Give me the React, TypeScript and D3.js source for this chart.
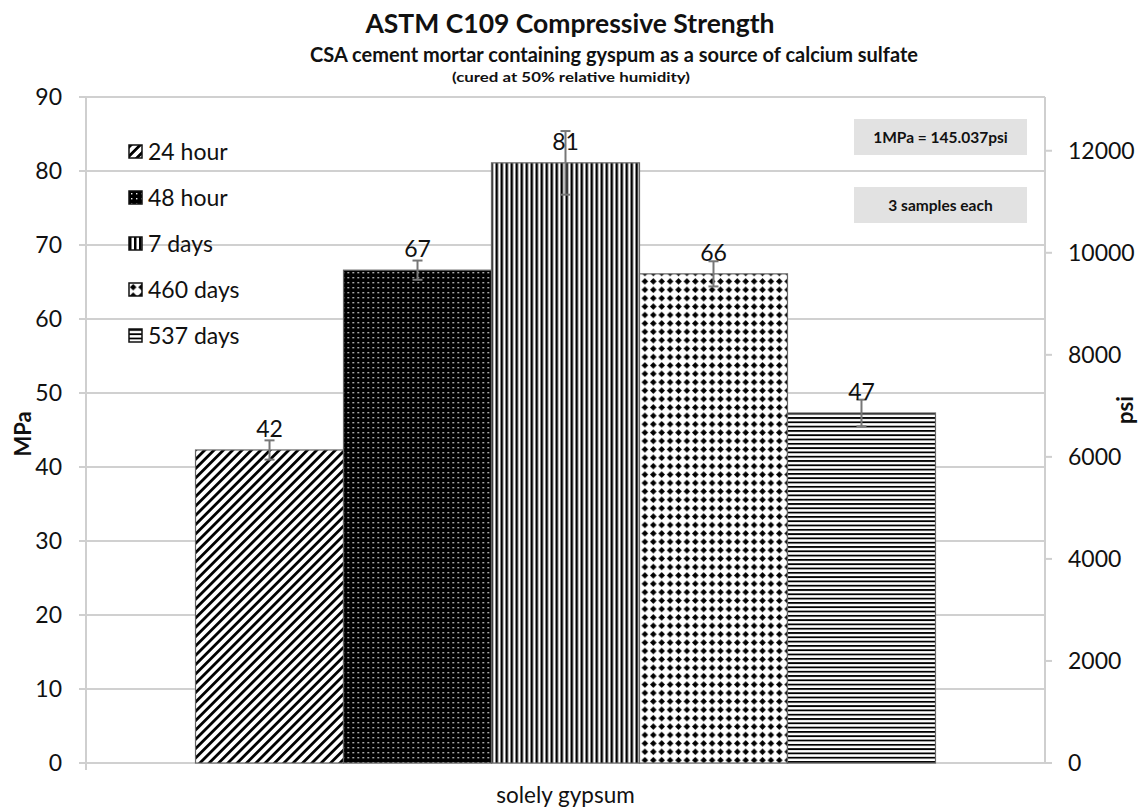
import React from "react";
import * as d3 from "d3";

const categories = ["solely gypsum"];
const seriesNames = ["24 hour", "48 hour", "7 days", "460 days", "537 days"];
const seriesValues = [42.3, 66.6, 81.1, 66.1, 47.3];
const seriesErrors = [1.3, 1.3, 4.3, 1.7, 1.8];
const dataLabels = ["42", "67", "81", "66", "47"];
const mpaTicks = [0, 10, 20, 30, 40, 50, 60, 70, 80, 90];
const psiTicks = [0, 2000, 4000, 6000, 8000, 10000, 12000];
const psiPerMpa = 145.037;
const notes = ["1MPa = 145.037psi", "3 samples each"];

const W = 1142;
const H = 808;
const FONT = "Lato, 'Open Sans', sans-serif";

const plot = { left: 86, right: 1045, top: 97, bottom: 763 };

export default function App() {
  const y = d3.scaleLinear().domain([0, 90]).range([plot.bottom, plot.top]);
  const yPsi = d3.scaleLinear().domain([0, 90 * psiPerMpa]).range([plot.bottom, plot.top]);
  const x0 = d3.scaleBand().domain(categories).range([plot.left, plot.right]).paddingInner(0).paddingOuter(0.148);
  const x1 = d3.scaleBand().domain(seriesNames).range([0, x0.bandwidth()]).padding(0);
  const patIds = ["p24", "p48", "p7", "p460", "p537"];

  return (
    <svg width={W} height={H} style={{ display: "block", position: "absolute", left: 0, top: 0, background: "#fff" }} fontFamily={FONT}>
      <defs>
        <pattern id="p24" patternUnits="userSpaceOnUse" width="6.6" height="6.6" patternTransform="rotate(45)">
          <rect width="6.6" height="6.6" fill="#fff" />
          <rect x="0" width="2.8" height="6.6" fill="#000" />
        </pattern>
        <pattern id="p48" patternUnits="userSpaceOnUse" width="5" height="5">
          <rect width="5" height="5" fill="#000" />
          <rect x="2" y="2" width="1.4" height="1.4" fill="#eee" />
        </pattern>
        <pattern id="p7" patternUnits="userSpaceOnUse" width="5" height="5">
          <rect width="5" height="5" fill="#fff" />
          <rect x="0" width="2.5" height="5" fill="#000" />
        </pattern>
        <pattern id="p460" patternUnits="userSpaceOnUse" width="8.4" height="8.4">
          <rect width="8.4" height="8.4" fill="#fff" />
          <path d="M4.2,0.9 L7.5,4.2 L4.2,7.5 L0.9,4.2 Z" fill="#000" />
        </pattern>
        <pattern id="p537" patternUnits="userSpaceOnUse" width="4.3" height="4.3">
          <rect width="4.3" height="4.3" fill="#fff" />
          <rect y="0" width="4.3" height="1.8" fill="#000" />
        </pattern>
      </defs>

      {/* Title */}
      <text x={570} y={33} textAnchor="middle" fontWeight="bold" fontSize={26.5} fill="#111">ASTM C109 Compressive Strength</text>
      <text x={614} y={62} textAnchor="middle" fontWeight="bold" fontSize={20} fill="#111">CSA cement mortar containing gyspum as a source of calcium sulfate</text>
      <text x={571} y={82} textAnchor="middle" fontWeight="bold" fontSize={14} textLength={238} lengthAdjust="spacingAndGlyphs" fill="#111">(cured at 50% relative humidity)</text>

      {/* gridlines */}
      {mpaTicks.map((t) => (
        <line key={"g" + t} x1={plot.left} x2={plot.right} y1={y(t)} y2={y(t)} stroke="#d0d0d0" strokeWidth={2} />
      ))}

      {/* axes */}
      <line x1={plot.left} x2={plot.left} y1={plot.top} y2={plot.bottom + 7} stroke="#cfcfcf" strokeWidth={2} />
      <line x1={plot.right} x2={plot.right} y1={plot.top} y2={plot.bottom} stroke="#cfcfcf" strokeWidth={2} />
      {mpaTicks.map((t) => (
        <g key={"l" + t}>
          <line x1={plot.left - 7} x2={plot.left} y1={y(t)} y2={y(t)} stroke="#cfcfcf" strokeWidth={2} />
          <text x={62} y={y(t) + 8} textAnchor="end" fontSize={23} fill="#111">{t}</text>
        </g>
      ))}
      {psiTicks.map((t) => (
        <g key={"r" + t}>
          <line x1={plot.right} x2={plot.right + 7} y1={yPsi(t)} y2={yPsi(t)} stroke="#cfcfcf" strokeWidth={2} />
          <text x={1068} y={yPsi(t) + 8} textAnchor="start" fontSize={23} fill="#111">{t}</text>
        </g>
      ))}
      <text transform={`translate(31,434) rotate(-90)`} textAnchor="middle" fontWeight="bold" fontSize={22} fill="#111">MPa</text>
      <text transform={`translate(1133,410) rotate(-90)`} textAnchor="middle" fontWeight="bold" fontSize={22} fill="#111">psi</text>

      {/* bars */}
      {categories.map((c) => (
        <g key={c} transform={`translate(${x0(c)},0)`}>
          {seriesNames.map((s, i) => {
            const bx = x1(s)!;
            const v = seriesValues[i];
            return (
              <rect key={s} x={bx} y={y(v)} width={x1.bandwidth()} height={y(0) - y(v)} fill={`url(#${patIds[i]})`} stroke="#666" strokeWidth={1.2} />
            );
          })}
          {seriesNames.map((s, i) => {
            const cx = x1(s)! + x1.bandwidth() / 2;
            const v = seriesValues[i];
            const e = seriesErrors[i];
            return (
              <g key={"e" + s} stroke="#777" strokeWidth={2}>
                <line x1={cx} x2={cx} y1={y(v + e)} y2={y(v - e)} />
                <line x1={cx - 5} x2={cx + 5} y1={y(v + e)} y2={y(v + e)} />
                <line x1={cx - 5} x2={cx + 5} y1={y(v - e)} y2={y(v - e)} />
              </g>
            );
          })}
          {seriesNames.map((s, i) => {
            const cx = x1(s)! + x1.bandwidth() / 2;
            return (
              <text key={"t" + s} x={cx} y={y(seriesValues[i]) - 13} textAnchor="middle" fontSize={23} fill="#111">{dataLabels[i]}</text>
            );
          })}
          <text x={x0.bandwidth() / 2} y={803} textAnchor="middle" fontSize={22.5} fill="#111">{c}</text>
        </g>
      ))}

      {/* legend */}
      {seriesNames.map((s, i) => (
        <g key={"lg" + s} transform={`translate(129,${145 + i * 46})`}>
          <rect x={0} y={0} width={13} height={13} fill={`url(#${patIds[i]})`} stroke="#111" strokeWidth={1.5} />
          <text x={19} y={15} fontSize={23} fill="#111">{s}</text>
        </g>
      ))}

      {/* notes */}
      {notes.map((n, i) => (
        <g key={n} transform={`translate(854,${119 + i * 68})`}>
          <rect width={173} height={36} fill="#e2e2e2" />
          <text x={86.5} y={23.5} textAnchor="middle" fontWeight="bold" fontSize={15.5} fill="#111">{n}</text>
        </g>
      ))}
    </svg>
  );
}
